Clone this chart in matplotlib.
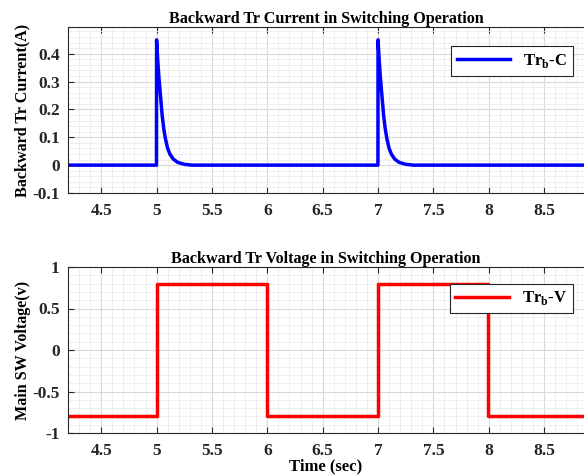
import matplotlib
matplotlib.use("Agg")
import matplotlib.pyplot as plt
from matplotlib.ticker import MultipleLocator

plt.rcParams['font.family'] = ['Liberation Serif', 'DejaVu Serif']
plt.rcParams['font.weight'] = 'bold'
plt.rcParams['mathtext.fontset'] = 'custom'
plt.rcParams['mathtext.rm'] = 'Liberation Serif:bold'
plt.rcParams['mathtext.bf'] = 'Liberation Serif:bold'

# ---- data ----
cur_t = [4.2, 4.999, 5.0, 5.01, 5.02, 5.035, 5.05, 5.065, 5.08, 5.1, 5.12, 5.15, 5.19, 5.25, 5.32,
         6.999, 7.0, 7.01, 7.02, 7.035, 7.05, 7.065, 7.08, 7.1, 7.12, 7.15, 7.19, 7.25, 7.32, 9.0]
cur_i = [0.0, 0.0, 0.45, 0.38, 0.32, 0.25, 0.18, 0.13, 0.095, 0.06, 0.04, 0.022, 0.01, 0.003, 0.0,
         0.0, 0.45, 0.38, 0.32, 0.25, 0.18, 0.13, 0.095, 0.06, 0.04, 0.022, 0.01, 0.003, 0.0, 0.0]

volt_t = [4.2, 5.0, 5.0, 6.0, 6.0, 7.0, 7.0, 7.99, 7.99, 9.0]
volt_v = [-0.8, -0.8, 0.8, 0.8, -0.8, -0.8, 0.8, 0.8, -0.8, -0.8]

x_ticks = [4.5, 5, 5.5, 6, 6.5, 7, 7.5, 8, 8.5]
x_labels = ['4.5', '5', '5.5', '6', '6.5', '7', '7.5', '8', '8.5']
cur_yticks = [-0.1, 0, 0.1, 0.2, 0.3, 0.4]
cur_ylabels = ['-0.1', '0', '0.1', '0.2', '0.3', '0.4']
volt_yticks = [-1, -0.5, 0, 0.5, 1]
volt_ylabels = ['-1', '-0.5', '0', '0.5', '1']

fig = plt.figure(figsize=(5.84, 4.75), dpi=100)
ax1 = fig.add_axes([68/584, 1-193/475, 1-68/584, (193-27)/475])
ax2 = fig.add_axes([68/584, 1-433/475, 1-68/584, (433-267)/475])

spine_c = '#262626'

def style(ax, yticks, ylabels, ylim, yminor):
    ax.set_xlim(4.2, 8.86)
    ax.set_ylim(*ylim)
    ax.set_xticks(x_ticks)
    ax.set_xticklabels(x_labels)
    ax.set_yticks(yticks)
    ax.set_yticklabels(ylabels)
    ax.xaxis.set_minor_locator(MultipleLocator(0.1))
    ax.yaxis.set_minor_locator(MultipleLocator(yminor))
    ax.grid(True, which='major', color='#d9d9d9', linewidth=0.8)
    ax.grid(True, which='minor', color='#ececec', linewidth=0.6)
    ax.set_axisbelow(True)
    ax.tick_params(which='major', direction='in', length=4, top=True, right=False,
                   labelsize=12.5, color=spine_c)
    ax.tick_params(axis='x', which='major', pad=7)
    ax.tick_params(axis='y', which='major', pad=6)
    ax.tick_params(which='minor', length=0)
    for lab in ax.get_xticklabels() + ax.get_yticklabels():
        lab.set_fontweight('bold')
        lab.set_color('#262626')
    for s in ['left', 'bottom', 'top']:
        ax.spines[s].set_color(spine_c)
        ax.spines[s].set_linewidth(0.8)
    ax.spines['right'].set_visible(False)

ax1.plot(cur_t, cur_i, color='#0000ff', linewidth=2.5, label=r'Tr$_{\mathrm{b}}$-C')
style(ax1, cur_yticks, cur_ylabels, (-0.1, 0.496), 0.02)
ax1.set_title('Backward Tr Current in Switching Operation', fontsize=11.6, fontweight='bold', pad=3)
ax1.set_ylabel('Backward Tr Current(A)', fontsize=11.6, fontweight='bold', labelpad=1)
leg1 = ax1.legend(loc='upper right', bbox_to_anchor=(0.9945, 0.935), fontsize=12, frameon=True,
                  fancybox=False, edgecolor='#262626', framealpha=1, handlelength=3.2,
                  borderpad=0.35, handletextpad=0.8)
leg1.get_frame().set_linewidth(0.8)

ax2.plot(volt_t, volt_v, color='#ff0000', linewidth=2.5, label=r'Tr$_{\mathrm{b}}$-V')
style(ax2, volt_yticks, volt_ylabels, (-1, 1), 0.1)
ax2.set_title('Backward Tr Voltage in Switching Operation', fontsize=11.6, fontweight='bold', pad=3)
ax2.set_ylabel('Main SW Voltage(v)', fontsize=11.6, fontweight='bold', labelpad=1)
ax2.set_xlabel('Time (sec)', fontsize=12, fontweight='bold', labelpad=0)
leg2 = ax2.legend(loc='upper right', bbox_to_anchor=(0.9945, 0.95), fontsize=12, frameon=True,
                  fancybox=False, edgecolor='#262626', framealpha=1, handlelength=3.2,
                  borderpad=0.35, handletextpad=0.8)
leg2.get_frame().set_linewidth(0.8)

fig.savefig('out.png', dpi=100)
